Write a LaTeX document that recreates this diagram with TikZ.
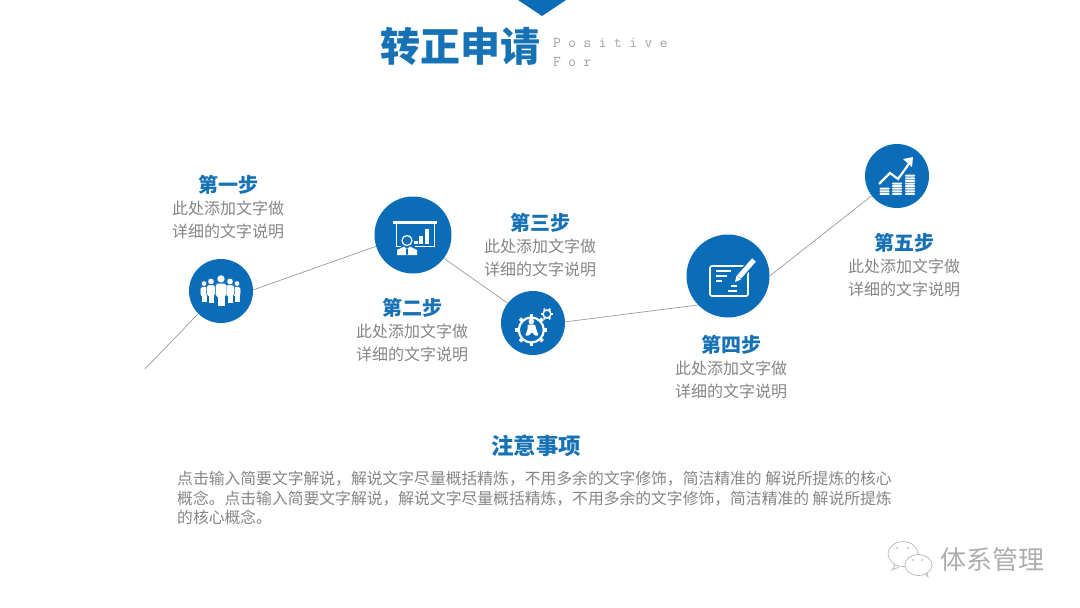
\documentclass[tikz,border=0pt]{standalone}
\usepackage{xcolor}
\usepackage{fontspec}
\setmainfont{Noto Sans CJK SC}
\newfontfamily\latinfont[LetterSpace=50]{Latin Modern Mono}
\usetikzlibrary{positioning}
\definecolor{stepblue}{HTML}{0B6CB8}
\definecolor{headblue}{HTML}{1672B4}
\definecolor{textgray}{HTML}{858585}
\tikzset{
  stepdot/.style={circle, fill=stepblue, draw=none, inner sep=0pt, minimum size=#1},
  steptitle/.style={text=headblue, font=\fontsize{20}{24}\selectfont\bfseries, inner sep=0pt},
  stepdesc/.style={text=textgray, font=\fontsize{16}{23}\selectfont, align=center, inner sep=0pt},
  link/.style={draw=black!40, line width=0.7pt},
  icon/.style={fill=white, draw=none},
  iconline/.style={draw=white, line width=1.6pt},
  person/.pic={
    \fill[white, draw=stepblue, line width=0.4pt] (0,-10.5) circle (3.2);
    \fill[white, draw=stepblue, line width=0.4pt, rounded corners=1.8] (-4.4,-7) rectangle (4.4,4);
    \fill[white, draw=stepblue, line width=0.4pt] (-3.2,3) rectangle (3.2,11);
    \fill[white] (-3,2) rectangle (3,4);
  }
}
\begin{document}
\begin{tikzpicture}[x=1pt, y=-1pt]
    \useasboundingbox (0,0) rectangle (1080,608);
    \fill[stepblue] (518,0) -- (566,0) -- (542,16) -- cycle;
    % title
    \node[text=headblue, font=\fontsize{40}{44}\selectfont\bfseries, inner sep=0pt] (title) at (460,46) {转正申请};
    \node[text=black!38, font=\fontsize{15}{19}\latinfont, align=left, inner sep=0pt, anchor=west] (sub) at (553,52) {Positive\\For};
    % steps
    \coordinate (S) at (145,369);
    \node[stepdot=64pt] (A) at (221,291) {};
    \node[stepdot=77pt] (B) at (413,235) {};
    \node[stepdot=64pt] (C) at (533,323) {};
    \node[stepdot=83pt] (D) at (728,276) {};
    \node[stepdot=64pt] (E) at (897,176) {};
    \path[link] (S) edge (A.225)
      (A.2) edge (B.197)
      (B.-37) edge (C.142)
      (C.2) edge (D.224)
      (D.0) edge (E.218);
    \node[steptitle] (At) at (228,185) {第一步};
    \node[stepdesc] (Ad) [below=5.5pt of At] {此处添加文字做\\详细的文字说明};
    \node[steptitle] (Bt) at (412,308) {第二步};
    \node[stepdesc] (Bd) [below=5.5pt of Bt] {此处添加文字做\\详细的文字说明};
    \node[steptitle] (Ct) at (540,223) {第三步};
    \node[stepdesc] (Cd) [below=5.5pt of Ct] {此处添加文字做\\详细的文字说明};
    \node[steptitle] (Dt) at (731,345) {第四步};
    \node[stepdesc] (Dd) [below=5.5pt of Dt] {此处添加文字做\\详细的文字说明};
    \node[steptitle] (Et) at (904,243) {第五步};
    \node[stepdesc] (Ed) [below=5.5pt of Et] {此处添加文字做\\详细的文字说明};
    % note
    \node[text=headblue, font=\fontsize{22.5}{26}\selectfont\bfseries, inner sep=0pt] (Nt) at (536,446) {注意事项};
    \node[text=textgray, font=\fontsize{15.8}{19.5}\selectfont, align=left, inner sep=0pt, anchor=west] (Nd) at (177,498)
      {点击输入简要文字解说，解说文字尽量概括精炼，不用多余的文字修饰，简洁精准的 解说所提炼的核心\\
       概念。点击输入简要文字解说，解说文字尽量概括精炼，不用多余的文字修饰，简洁精准的 解说所提炼\\
       的核心概念。};
    % icon A: group of people
    \begin{scope}[shift={(A)}]
      \pic[scale=0.85] at (-17,1.5) {person};
      \pic[scale=0.85] at (16,1.5) {person};
      \pic[scale=1] at (-10,1) {person};
      \pic[scale=1] at (9,1) {person};
      \pic[scale=1.25] at (0,1) {person};
    \end{scope}
    % icon B: board
    \begin{scope}[shift={(B)}]
      \fill[icon] (-20,-14) rectangle (24,-11);
      \draw[white, line width=1pt] (-17,-12) -- (-17,11) -- (-12,11) (21,-12) -- (21,11) -- (2,11);
      \fill[icon] (1,5.5) rectangle (4.5,9);
      \fill[icon] (6,0.7) rectangle (9.5,9);
      \fill[icon] (12,-6) rectangle (15.5,9);
      \draw[white, line width=1.2pt] (-6,5.5) circle (5);
      \fill[icon] (-16,20) -- (-16,15) -- (-9,11.5) -- (-6,14) -- (-3,11.5) -- (4,15) -- (4,20) -- cycle;
      \fill[stepblue] (-7,14) -- (-5,14) -- (-5.3,20) -- (-6.7,20) -- cycle;
    \end{scope}
    % icon C: gears
    \begin{scope}[shift={(C)}]
      \draw[white, line width=2.2pt] (-1.7,7) circle (12.5);
      \foreach \a in {0,45,...,315}
        \draw[white, line width=3.5pt] (-1.7,7) ++(\a:12.5) -- ++(\a:3.5);
      \draw[white, line width=1.5pt] (14,-9) circle (4);
      \foreach \a in {0,60,...,300}
        \draw[white, line width=1.8pt] (14,-9) ++(\a:4) -- ++(\a:2.2);
      \fill[icon] (-1.7,-1.5) circle (2.8);
      \fill[icon, rounded corners=1] (-5.5,1.5) -- (2,1.5) -- (3.5,7) -- (5.5,12.5) -- (1.5,12.5) -- (-1,9) -- (-4,12.5) -- (-8,12.5) -- (-5.5,7) -- cycle;
    \end{scope}
    % icon D: card and pen
    \begin{scope}[shift={(D)}]
      \draw[white, line width=1.6pt, rounded corners=2] (-18,-10) rectangle (20,20);
      \draw[iconline] (-12,-5) -- (3,-5) (-12,0) -- (-1,0) (-12,5) -- (-6,5) (3,10) -- (9,10) (0,15) -- (9,15);
      \draw[stepblue, line width=8pt] (9,3) -- (26,-16);
      \draw[white, line width=5pt] (11,1) -- (26,-16);
      \fill[icon] (7,6) -- (8.5,-0.5) -- (13,3.5) -- cycle;
    \end{scope}
    % icon E: rising arrow and coins
    \begin{scope}[shift={(E)}]
      \draw[white, line width=2.2pt, line join=miter] (-18,8) -- (-7,-3) -- (1,3) -- (14,-15);
      \fill[icon] (16,-19) -- (6,-17) -- (15,-9) -- cycle;
      \foreach \x/\n in {-12.5/3, 0/5, 13/8}
        \foreach \i in {1,...,\n}
          \fill[icon, rounded corners=0.8] (\x-5,19.5-2.6*\i) rectangle (\x+5,21.5-2.6*\i);
    \end{scope}
    % watermark
    \draw[black!28, fill=white, line width=0.7pt] (903,554) ellipse (15 and 12.5);
    \draw[black!28, line width=0.7pt] (895,565) -- (892,570) -- (899,567);
    \draw[black!28, fill=white, line width=0.7pt] (918.5,565) ellipse (13.5 and 10.5);
    \draw[black!28, line width=0.7pt] (925,574) -- (928,577) -- (927,572);
    \fill[black!28] (897,548) circle (1) (908,548) circle (1) (913,560) circle (1) (922,560) circle (1);
    \node[text=black!32, font=\fontsize{26}{30}\selectfont, inner sep=0pt] (mark) at (992,560) {体系管理};
\end{tikzpicture}
\end{document}
